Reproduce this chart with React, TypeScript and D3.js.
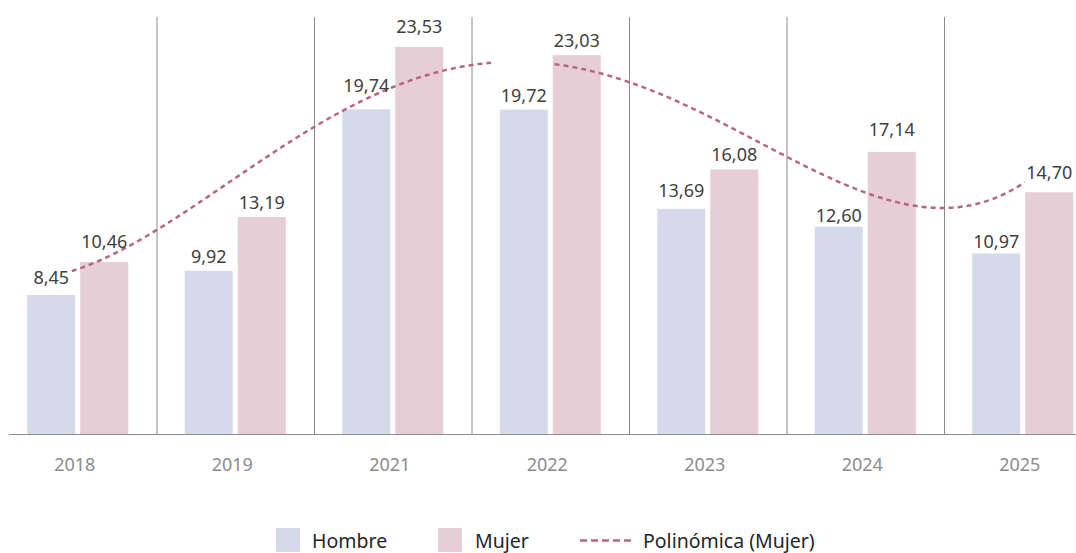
import React from "react";
import * as d3 from "d3";

// chart data
const years = ["2018", "2019", "2021", "2022", "2023", "2024", "2025"];
const hombre = [8.45, 9.92, 19.74, 19.72, 13.69, 12.6, 10.97];
const mujer = [10.46, 13.19, 23.53, 23.03, 16.08, 17.14, 14.7];
const seriesNames = ["Hombre", "Mujer"];

const colors = { Hombre: "#d5daeb", Mujer: "#e6cdd6" };
const trendColor = "#b66583";

// label lift above bar top (px), most are 8
const labelGap = {
  "Hombre-2018": 11, "Mujer-2018": 14,
  "Hombre-2021": 17, "Mujer-2021": 14,
  "Hombre-2023": 12, "Hombre-2024": 5, "Mujer-2024": 16,
  "Hombre-2025": 6, "Mujer-2025": 13,
};

const font = "'Noto Sans', 'Open Sans', sans-serif";
const fmt = (v) => d3.format(".2f")(v).replace(".", ",");

// least squares polynomial (like Excel's polynomial trendline)
function polyFit(xs, ys, order) {
  const n = order + 1;
  const A = Array.from({ length: n }, () => new Array(n + 1).fill(0));
  for (let r = 0; r < n; r++) {
    for (let c = 0; c < n; c++) A[r][c] = d3.sum(xs, (x) => Math.pow(x, r + c));
    A[r][n] = d3.sum(xs, (x, i) => ys[i] * Math.pow(x, r));
  }
  for (let i = 0; i < n; i++) {
    let p = i;
    for (let k = i + 1; k < n; k++) if (Math.abs(A[k][i]) > Math.abs(A[p][i])) p = k;
    [A[i], A[p]] = [A[p], A[i]];
    for (let k = i + 1; k < n; k++) {
      const f = A[k][i] / A[i][i];
      for (let j = i; j <= n; j++) A[k][j] -= f * A[i][j];
    }
  }
  const coef = new Array(n).fill(0);
  for (let i = n - 1; i >= 0; i--) {
    let s = A[i][n];
    for (let j = i + 1; j < n; j++) s -= A[i][j] * coef[j];
    coef[i] = s / A[i][i];
  }
  return (x) => coef.reduce((acc, c, i) => acc + c * Math.pow(x, i), 0);
}

const App = () => {
  const width = 1076, height = 553;
  const baseY = 434, topY = 17;

  const x = d3.scaleBand().domain(years).range([-1, -1 + 157.5 * years.length]);
  const x1 = d3.scaleBand().domain(seriesNames).range([0, 101]).paddingInner(5 / 53);
  const groupOffset = (x.bandwidth() - 101) / 2;
  const y = d3.scaleLinear().domain([0, 25.35]).range([baseY, topY]);

  const values = { Hombre: hombre, Mujer: mujer };

  // trendline over Excel x = 1..n
  const xs = years.map((_, i) => i + 1);
  const trend = polyFit(xs, mujer, 4);
  const xPix = d3.scaleLinear().domain([1, years.length])
    .range([x(years[0]) + x.bandwidth() / 2 - 6, x(years[years.length - 1]) + x.bandwidth() / 2 + 2]);
  const samples = d3.range(0, 301).map((i) => 1 + (i / 300) * (years.length - 1));
  const trendLine = d3.line()
    .defined((t) => t < 3.65 || t > 4.03)
    .x((t) => xPix(t))
    .y((t) => y(trend(t)));

  const legendItems = [
    { name: "Hombre", sx: 276, tx: 312 },
    { name: "Mujer", sx: 438, tx: 475 },
  ];

  return (
    <svg width={width} height={height} style={{ position: "absolute", left: 0, top: 0, background: "#fff" }}>
      {/* gridlines between categories */}
      {years.slice(1).map((yr) => (
        <line key={yr} x1={x(yr) + 0.5} x2={x(yr) + 0.5} y1={topY} y2={baseY} stroke="#8a8a8a" strokeWidth={1} />
      ))}

      {/* bars */}
      {years.map((yr, i) => (
        <g key={yr} transform={`translate(${x(yr) + groupOffset},0)`}>
          {seriesNames.map((s) => (
            <rect key={s} x={x1(s)} y={y(values[s][i])} width={x1.bandwidth()} height={baseY - y(values[s][i])} fill={colors[s]} />
          ))}
        </g>
      ))}

      {/* trendline */}
      <path d={trendLine(samples)} fill="none" stroke={trendColor} strokeWidth={2.5} strokeDasharray="5 4" />

      {/* value labels */}
      {years.map((yr, i) => (
        <g key={yr} transform={`translate(${x(yr) + groupOffset},0)`}>
          {seriesNames.map((s) => (
            <text key={s} x={x1(s) + x1.bandwidth() / 2} y={y(values[s][i]) - (labelGap[`${s}-${yr}`] ?? 8)}
              textAnchor="middle" fontFamily={font} fontSize={18} fill="#404040">
              {fmt(values[s][i])}
            </text>
          ))}
        </g>
      ))}

      {/* x axis */}
      <line x1={9} x2={width} y1={baseY + 0.5} y2={baseY + 0.5} stroke="#8a8a8a" strokeWidth={1.2} />
      {years.map((yr) => (
        <text key={yr} x={x(yr) + x.bandwidth() / 2 - 3} y={471} textAnchor="middle" fontFamily={font} fontSize={18} fill="#8c8c8c">
          {yr}
        </text>
      ))}

      {/* legend */}
      {legendItems.map((d) => (
        <g key={d.name}>
          <rect x={d.sx} y={528} width={24} height={24} fill={colors[d.name]} />
          <text x={d.tx} y={548} fontFamily={font} fontSize={19.5} fill="#262626">{d.name}</text>
        </g>
      ))}
      <line x1={580} x2={633} y1={540.5} y2={540.5} stroke={trendColor} strokeWidth={2.5} strokeDasharray="7 4" />
      <text x={643} y={548} fontFamily={font} fontSize={19.5} fill="#262626">Polinómica (Mujer)</text>
    </svg>
  );
};

export default App;
